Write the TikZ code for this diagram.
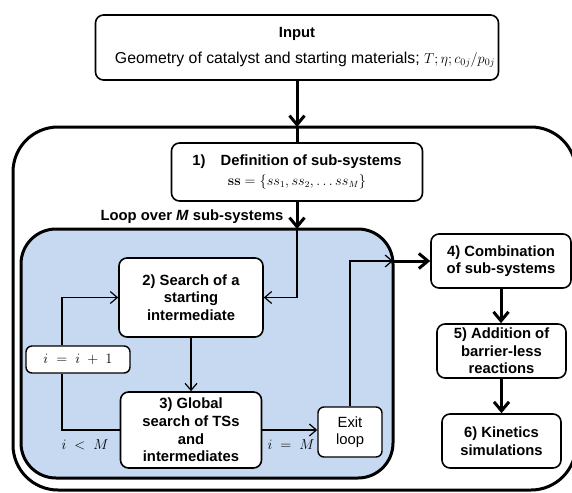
\documentclass[tikz,border=0pt]{standalone}
\usepackage[no-math]{fontspec}
\setmainfont{Liberation Sans}
\usetikzlibrary{arrows.meta}
\definecolor{bluefill}{RGB}{198,217,241}
\begin{document}
\begin{tikzpicture}[x=1pt,y=-1pt,
  box/.style={draw, line width=1.6pt, rounded corners=8pt, fill=white, align=center, inner sep=0pt,
    font=\fontsize{14.8}{17.6}\selectfont\bfseries},
  plainbox/.style={box, line width=1.4pt, rounded corners=6pt, font=\fontsize{14.8}{17.6}\selectfont},
  thickarrow/.style={line width=3pt, -{Straight Barb[length=9pt,width=15pt]}},
  thickline/.style={line width=3pt},
  thinline/.style={line width=1.2pt},
  thinarrow/.style={line width=1.2pt, -{Straight Barb[length=7pt,width=12pt]}},
  lbl/.style={font=\fontsize{14.8}{17.6}\selectfont, inner sep=0pt}
]
\useasboundingbox (0,0) rectangle (572,492);
\fill[white] (0,0) rectangle (572,492);
% containers
\draw[line width=3pt, rounded corners=45pt] (13,127) rectangle (576,490);
\draw[line width=3pt, fill=bluefill, rounded corners=35pt] (21,229) rectangle (393,478);
% coordinates on container borders
\coordinate (outerTop) at (297,127);
\coordinate (blueTop) at (297,229);
\coordinate (blueRight) at (393,261);
% nodes
\node[box, font=\fontsize{14.8}{17.6}\selectfont, minimum width=403pt, minimum height=65pt] (input) at (297,47.5)
  {\textbf{Input}\\[9pt]{\fontsize{15.8}{18}\selectfont \hspace*{16pt}Geometry of catalyst and starting materials; {\fontsize{14.4}{16}\selectfont$T;\eta;c_{0j}/p_{0j}$}}};
\node[box, minimum width=251pt, minimum height=58pt] (def) at (297,172)
  {1)\hspace{15pt}Definition of sub-systems\\[2pt]{\fontsize{13.5}{16}\selectfont$\mathbf{ss}=\{ss_1,ss_2,\dots ss_M\}$}};
\node[lbl, font=\fontsize{14.8}{17.6}\selectfont\bfseries] (loop) at (192,217) {Loop over \textit{M} sub-systems};
\node[box, minimum width=144pt, minimum height=79pt] (search) at (191,297.5) {2) Search of a\\starting\\intermediate};
\node[plainbox, minimum width=104pt, minimum height=27pt] (iinc) at (78,359.5) {$i\;=\;i\;+\;1$};
\node[box, minimum width=141pt, minimum height=76pt] (global) at (191,430) {3) Global\\search of TSs\\and\\intermediates};
\node[plainbox, minimum width=64pt, minimum height=50pt] (exit) at (350,432) {Exit\\loop};
\node[box, minimum width=140pt, minimum height=54pt] (comb) at (501,261) {4) Combination\\of sub-systems};
\node[box, minimum width=129pt, minimum height=54pt] (addn) at (501.5,351) {5) Addition of\\barrier-less\\reactions};
\node[box, minimum width=119pt, minimum height=54pt] (kin) at (501.5,441) {6) Kinetics\\simulations};
\node[lbl] (ltm) at (85,445) {$i\;<\;M$};
\node[lbl] (eqm) at (291,445) {$i\;=\;M$};
% connectors
\draw[thickarrow] (input.south) -- (outerTop);
\draw[thickline] (outerTop) -- (def.north);
\draw[thickarrow] (def.south) -- (blueTop);
\draw[thinarrow] (blueTop) |- (search.east);
\draw[thinarrow] (search.south) -- (global.north);
\draw[thinarrow] (global.east) -- (global.east -| exit.west);
\draw[thinarrow] (exit.north) |- (blueRight);
\draw[thickarrow] (blueRight) -- (comb.west);
\draw[thinline] (global.west) -| ([xshift=-16pt]iinc.south);
\draw[thinarrow] ([xshift=-16pt]iinc.north) |- (search.west);
\draw[thickarrow] (comb.south) -- (comb.south |- addn.north);
\draw[thickarrow] (addn.south) -- (addn.south |- kin.north);
\end{tikzpicture}
\end{document}
